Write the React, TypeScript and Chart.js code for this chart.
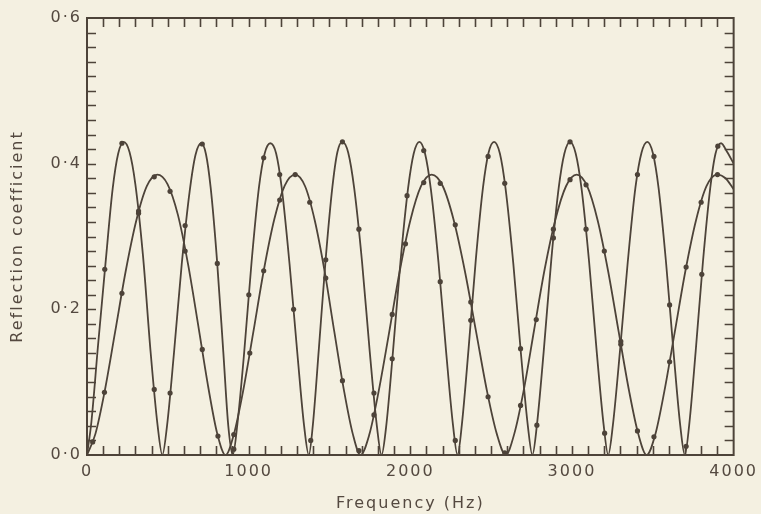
import React, { useEffect, useRef } from 'react';
import { Chart, registerables } from 'chart.js';

Chart.register(...registerables);

// ---- Measured points (dots) ----
const dotFreqA = [110, 216, 319, 416, 514, 607, 713, 806, 908, 1001, 1093, 1192, 1278, 1384, 1477, 1580, 1682, 1775, 1888, 1980, 2083, 2185, 2278, 2374, 2481, 2584, 2682, 2783, 2885, 2988, 3087, 3202, 3302, 3405, 3507, 3604, 3706, 3803, 3902];
const dotValA = [0.255, 0.428, 0.335, 0.090, 0.085, 0.315, 0.427, 0.263, 0.008, 0.220, 0.408, 0.385, 0.200, 0.020, 0.268, 0.430, 0.310, 0.085, 0.132, 0.356, 0.418, 0.238, 0.020, 0.185, 0.410, 0.373, 0.146, 0.041, 0.298, 0.430, 0.310, 0.030, 0.156, 0.385, 0.410, 0.206, 0.012, 0.248, 0.424];

const dotFreqB = [35, 108, 216, 319, 416, 514, 607, 713, 810, 908, 1007, 1093, 1192, 1288, 1378, 1477, 1580, 1682, 1775, 1888, 1970, 2083, 2185, 2278, 2374, 2481, 2584, 2682, 2779, 2885, 2988, 3087, 3200, 3302, 3405, 3507, 3604, 3706, 3799, 3900];
const dotValB = [0.018, 0.086, 0.222, 0.332, 0.382, 0.362, 0.280, 0.145, 0.026, 0.028, 0.140, 0.253, 0.350, 0.385, 0.347, 0.243, 0.102, 0.006, 0.055, 0.193, 0.290, 0.374, 0.373, 0.316, 0.210, 0.080, 0.003, 0.068, 0.186, 0.310, 0.378, 0.371, 0.280, 0.152, 0.033, 0.025, 0.128, 0.258, 0.347, 0.385];

// ---- Curves ----
const curveFreqA = [
  0, 27, 68, 114, 159, 193, 227, 263, 299, 347, 394, 437,
  466, 495, 538, 586, 635, 671, 707, 736, 765, 804, 843, 874,
  902, 930, 972, 1018, 1064, 1099, 1134, 1170, 1205, 1253, 1301, 1343,
  1372, 1397, 1434, 1476, 1518, 1549, 1580, 1616, 1653, 1701, 1749, 1793,
  1822, 1850, 1892, 1939, 1986, 2021, 2056, 2091, 2127, 2174, 2221, 2264,
  2292, 2319, 2360, 2405, 2450, 2484, 2518, 2554, 2589, 2637, 2684, 2727,
  2755, 2783, 2825, 2872, 2918, 2953, 2988, 3023, 3059, 3106, 3153, 3196,
  3224, 3253, 3297, 3345, 3393, 3430, 3466, 3501, 3536, 3582, 3628, 3670,
  3698, 3725, 3765, 3810, 3855, 3888, 3922, 3960, 4000,
];
const curveValA = [
  0, 0.045, 0.150, 0.262, 0.366, 0.414, 0.430, 0.416, 0.372, 0.272, 0.140, 0.040,
  0, 0.040, 0.140, 0.262, 0.362, 0.412, 0.428, 0.413, 0.367, 0.268, 0.142, 0.040,
  0, 0.042, 0.140, 0.265, 0.368, 0.414, 0.428, 0.414, 0.366, 0.262, 0.140, 0.040,
  0, 0.041, 0.145, 0.268, 0.368, 0.416, 0.430, 0.415, 0.366, 0.266, 0.142, 0.040,
  0, 0.038, 0.140, 0.265, 0.366, 0.414, 0.430, 0.414, 0.365, 0.265, 0.143, 0.041,
  0, 0.042, 0.145, 0.268, 0.368, 0.415, 0.430, 0.414, 0.366, 0.263, 0.140, 0.040,
  0, 0.041, 0.142, 0.268, 0.367, 0.414, 0.430, 0.414, 0.366, 0.265, 0.142, 0.041,
  0, 0.041, 0.143, 0.265, 0.368, 0.415, 0.430, 0.414, 0.366, 0.264, 0.142, 0.040,
  0, 0.041, 0.142, 0.265, 0.366, 0.414, 0.428, 0.416, 0.400,
];

const curveFreqB = [
  0, 52, 109, 174, 239, 305, 370, 435, 498, 562, 625, 688, 751, 806,
  857, 909, 965, 1029, 1094, 1159, 1223, 1288, 1349, 1409, 1470, 1530, 1591, 1644,
  1692, 1745, 1802, 1868, 1934, 2000, 2066, 2132, 2201, 2269, 2338, 2407, 2475, 2535,
  2590, 2643, 2700, 2766, 2831, 2897, 2963, 3029, 3094, 3159, 3224, 3289, 3354, 3410,
  3462, 3514, 3571, 3636, 3701, 3767, 3832, 3897, 3950, 4000,
];
const curveValB = [
  0, 0.029, 0.087, 0.169, 0.252, 0.322, 0.369, 0.385, 0.372, 0.330, 0.262, 0.178, 0.092, 0.029,
  0, 0.029, 0.087, 0.169, 0.254, 0.324, 0.370, 0.385, 0.369, 0.322, 0.252, 0.169, 0.087, 0.029,
  0, 0.027, 0.085, 0.167, 0.252, 0.322, 0.369, 0.385, 0.369, 0.322, 0.252, 0.169, 0.087, 0.029,
  0, 0.029, 0.087, 0.172, 0.255, 0.323, 0.369, 0.385, 0.369, 0.322, 0.252, 0.169, 0.087, 0.029,
  0, 0.027, 0.087, 0.169, 0.252, 0.322, 0.369, 0.385, 0.380, 0.365,
];

// ---- Axes ----
const xTickValues = [0, 1000, 2000, 3000, 4000];
const yTickValues = [0, 0.2, 0.4, 0.6];
const xTitle = 'Frequency (Hz)';
const yTitle = 'Reflection coefficient';

const INK = '#4d4339';
const TEXT = '#544940';
const BG = '#f4f0e1';
const FONT = { family: 'DejaVu Sans', size: 16 };
const TICK = 9;

function pts(fs: number[], vs: number[]) {
  return fs.map((x, i) => ({ x, y: vs[i] }));
}

const framePlugin = {
  id: 'frame',
  beforeDraw(chart: any) {
    chart.ctx.letterSpacing = '2px';
  },
  afterDatasetsDraw(chart: any) {
    const { ctx, chartArea: a, scales } = chart;
    const x = scales.x;
    const y = scales.y;
    ctx.save();
    ctx.strokeStyle = INK;
    ctx.lineWidth = 1.6;
    ctx.beginPath();
    for (let f = 100; f < 4000; f += 100) {
      const px = Math.round(x.getPixelForValue(f)) + 0.5;
      ctx.moveTo(px, a.bottom);
      ctx.lineTo(px, a.bottom - TICK);
      ctx.moveTo(px, a.top);
      ctx.lineTo(px, a.top + TICK);
    }
    for (let i = 1; i < 30; i++) {
      const py = Math.round(y.getPixelForValue(i * 0.02)) + 0.5;
      ctx.moveTo(a.left, py);
      ctx.lineTo(a.left + TICK, py);
      ctx.moveTo(a.right, py);
      ctx.lineTo(a.right - TICK, py);
    }
    ctx.stroke();
    ctx.lineWidth = 2;
    ctx.strokeRect(a.left, a.top, a.right - a.left, a.bottom - a.top);
    ctx.restore();
  },
};

export default function App() {
  const ref = useRef<HTMLCanvasElement>(null);
  useEffect(() => {
    const lineSet = (label: string, data: any[]) => ({
      label,
      data,
      showLine: true,
      borderColor: INK,
      borderWidth: 1.8,
      pointRadius: 0,
      cubicInterpolationMode: 'monotone',
    });
    const dotSet = (label: string, data: any[]) => ({
      label,
      data,
      showLine: false,
      pointRadius: 2.6,
      pointBackgroundColor: INK,
      pointBorderWidth: 0,
    });
    const chart = new Chart(ref.current as HTMLCanvasElement, {
      type: 'scatter',
      data: {
        datasets: [
          lineSet('A', pts(curveFreqA, curveValA)),
          lineSet('B', pts(curveFreqB, curveValB)),
          dotSet('A points', pts(dotFreqA, dotValA)),
          dotSet('B points', pts(dotFreqB, dotValB)),
        ],
      } as any,
      options: {
        animation: false,
        responsive: false,
        events: [],
        layout: { padding: { top: 18, right: 24, bottom: 0, left: 0 } },
        plugins: { legend: { display: false }, tooltip: { enabled: false } },
        scales: {
          x: {
            type: 'linear',
            min: 0,
            max: 4000,
            afterFit: (s: any) => { s.height = 59; },
            afterBuildTicks: (s: any) => { s.ticks = xTickValues.map((v) => ({ value: v })); },
            ticks: {
              color: TEXT,
              font: FONT,
              padding: 7,
              maxRotation: 0,
              autoSkip: false,
              callback: (v: any) => String(v),
            },
            grid: { display: false, drawTicks: false },
            border: { display: false },
            title: { display: true, text: xTitle, color: TEXT, font: FONT, padding: { top: 0, bottom: 1 } },
          },
          y: {
            type: 'linear',
            min: 0,
            max: 0.6,
            afterFit: (s: any) => { s.width = 87; },
            afterBuildTicks: (s: any) => { s.ticks = yTickValues.map((v) => ({ value: v })); },
            ticks: {
              color: TEXT,
              font: FONT,
              padding: 5,
              callback: (v: any) => Number(v).toFixed(1).replace('.', '·'),
            },
            grid: { display: false, drawTicks: false },
            border: { display: false },
            title: { display: true, text: yTitle, color: TEXT, font: FONT, padding: { top: 8, bottom: 0 } },
          },
        },
      } as any,
      plugins: [framePlugin],
    });
    return () => chart.destroy();
  }, []);
  return (
    <div style={{ position: 'absolute', left: 0, top: 0, width: 761, height: 514, background: BG }}>
      <canvas ref={ref} width={761} height={514} style={{ display: 'block' }} />
    </div>
  );
}
